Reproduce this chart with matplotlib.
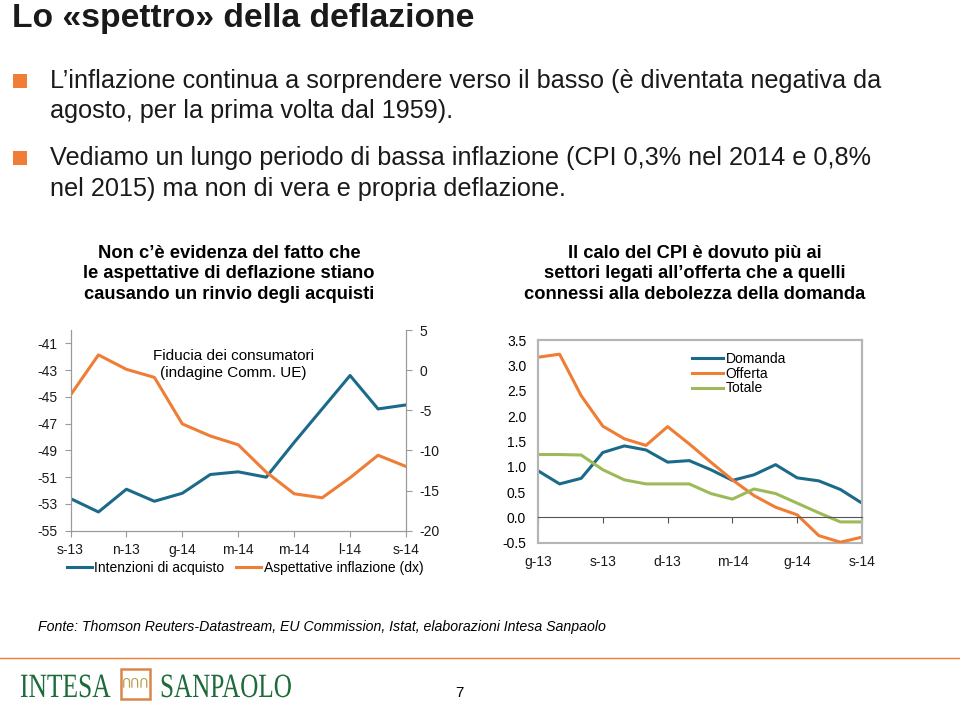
import matplotlib
matplotlib.use("Agg")
import matplotlib.pyplot as plt
from matplotlib.patches import Rectangle, PathPatch
from matplotlib.lines import Line2D
from matplotlib.textpath import TextPath
from matplotlib.font_manager import FontProperties
from matplotlib.transforms import Affine2D

plt.rcParams['font.family'] = ['Liberation Sans', 'DejaVu Sans']
plt.rcParams['axes.unicode_minus'] = False

# grafico sinistro: fiducia dei consumatori (set-13 .. set-14)
mesi_sx = list(range(13))
etichette_sx = ["s-13", "n-13", "g-14", "m-14", "m-14", "l-14", "s-14"]
intenzioni = [-52.6, -53.6, -51.9, -52.8, -52.2, -50.8, -50.6, -51.0, -48.4, -45.9, -43.4, -45.9, -45.6]
aspettative = [-3.1, 1.9, 0.1, -0.9, -6.7, -8.2, -9.3, -12.7, -15.4, -15.9, -13.4, -10.6, -12.0]

# grafico destro: CPI per componenti (giu-13 .. set-14)
mesi_dx = list(range(16))
etichette_dx = ["g-13", "s-13", "d-13", "m-14", "g-14", "s-14"]
domanda = [0.92, 0.66, 0.77, 1.28, 1.41, 1.33, 1.09, 1.12, 0.94, 0.73, 0.84, 1.04, 0.78, 0.72, 0.55, 0.28]
offerta = [3.16, 3.22, 2.40, 1.80, 1.55, 1.42, 1.79, 1.45, 1.09, 0.74, 0.43, 0.20, 0.05, -0.36, -0.49, -0.39]
totale = [1.24, 1.24, 1.23, 0.94, 0.74, 0.66, 0.66, 0.66, 0.47, 0.36, 0.56, 0.47, 0.28, 0.09, -0.09, -0.09]

TEAL = "#1c6a89"
ORANGE = "#ef7d35"
GREEN = "#9cbb58"
GREY = "#9a9a9a"
NARROW = ['Liberation Sans Narrow', 'Liberation Sans', 'DejaVu Sans']

W, H = 960, 702
def fx(x):
    return x / W
def fy(y):
    return 1 - y / H

fig = plt.figure(figsize=(9.6, 7.02), dpi=100)

# titolo e punti elenco
fig.text(fx(12), fy(27), "Lo «spettro» della deflazione", fontsize=24.2, weight='bold',
         color="#1a1a1a", va='baseline')
righe = [("L’inflazione continua a sorprendere verso il basso (è diventata negativa da", 88),
         ("agosto, per la prima volta dal 1959).", 118),
         ("Vediamo un lungo periodo di bassa inflazione (CPI 0,3% nel 2014 e 0,8%", 165),
         ("nel 2015) ma non di vera e propria deflazione.", 196)]
for testo, yb in righe:
    fig.text(fx(50), fy(yb), testo, fontsize=18.2, color="#1a1a1a", va='baseline')
for yb in (88, 165):
    fig.add_artist(Rectangle((fx(13), fy(yb)), 14 / W, 14 / H, transform=fig.transFigure,
                             color=ORANGE, lw=0))

fig.text(fx(229), fy(274), "Non c’è evidenza del fatto che\nle aspettative di deflazione stiano\n"
         "causando un rinvio degli acquisti", ha='center', va='center', fontsize=13.2,
         weight='bold', family=NARROW, linespacing=1.3)
fig.text(fx(695), fy(274), "Il calo del CPI è dovuto più ai\nsettori legati all’offerta che a quelli\n"
         "connessi alla debolezza della domanda", ha='center', va='center', fontsize=13.2,
         weight='bold', family=NARROW, linespacing=1.3)

# grafico sinistro
ax1 = fig.add_axes([fx(70.5), fy(530.7), (406 - 70.5) / W, (530.7 - 330) / H])
l1, = ax1.plot(mesi_sx, intenzioni, color=TEAL, lw=2.2, label="Intenzioni di acquisto")
ax1.set_xlim(0, 12)
ax1.set_ylim(-55, -40)
ax1.set_yticks(range(-55, -40, 2))
ax1.set_xticks(mesi_sx[::2])
ax1.set_xticklabels(etichette_sx)
ax2 = ax1.twinx()
l2, = ax2.plot(mesi_sx, aspettative, color=ORANGE, lw=2.2, label="Aspettative inflazione (dx)")
ax2.set_ylim(-20, 5)
ax2.set_yticks(range(-20, 6, 5))
for a in (ax1, ax2):
    a.spines['top'].set_visible(False)
    for s in ('left', 'right', 'bottom'):
        a.spines[s].set_color(GREY)
    a.tick_params(colors=GREY, labelcolor="#1a1a1a", labelsize=10, length=4, pad=5.5)
ax1.tick_params(axis='x', pad=4.5)
ax1.text(0.485, 0.905, "Fiducia dei consumatori\n(indagine Comm. UE)", transform=ax1.transAxes,
         ha='center', va='top', fontsize=11, linespacing=1.25)
ax1.legend([l1, l2], [l1.get_label(), l2.get_label()], loc='upper center',
           bbox_to_anchor=(0.52, -0.09), ncol=2, frameon=False, fontsize=10,
           handlelength=1.8, handletextpad=0.15, columnspacing=0.9)

# grafico destro
ax3 = fig.add_axes([fx(538), fy(542.7), (862 - 538) / W, (542.7 - 340) / H])
ax3.plot(mesi_dx, domanda, color=TEAL, lw=2.2, label="Domanda")
ax3.plot(mesi_dx, offerta, color=ORANGE, lw=2.2, label="Offerta")
ax3.plot(mesi_dx, totale, color=GREEN, lw=2.2, label="Totale")
ax3.set_xlim(0, 15)
ax3.set_ylim(-0.5, 3.5)
ax3.set_yticks([-0.5, 0, 0.5, 1, 1.5, 2, 2.5, 3, 3.5])
ax3.set_yticklabels(["%.1f" % v for v in ax3.get_yticks()])
ax3.set_xticks(mesi_dx[::3])
ax3.set_xticklabels(etichette_dx)
ax3.spines['bottom'].set_position(('data', 0))
ax3.spines['bottom'].set_color("#555555")
ax3.spines['bottom'].set_linewidth(0.8)
for s in ('left', 'right', 'top'):
    ax3.spines[s].set_color("#b5b5b5")
    ax3.spines[s].set_linewidth(1.5)
ax3.add_patch(Rectangle((0, 0), 1, 1, transform=ax3.transAxes, fill=False,
                        edgecolor="#b5b5b5", lw=1.5, clip_on=False))
ax3.tick_params(axis='x', colors="#555555", labelcolor="#1a1a1a", labelsize=10,
                length=4, pad=23)
ax3.tick_params(axis='y', length=0, labelsize=10, pad=8.5)
ax3.legend(loc='upper left', bbox_to_anchor=(0.455, 0.975), frameon=False, fontsize=10,
           borderpad=0, handlelength=2.2, handletextpad=0.2, labelspacing=0.05)

# fonte e piè di pagina
fig.text(fx(38), fy(631), "Fonte: Thomson Reuters-Datastream, EU Commission, Istat, elaborazioni Intesa Sanpaolo",
         fontsize=10.2, style='italic', family=NARROW, va='baseline')
fig.add_artist(Line2D([0, 1], [fy(658), fy(658)], transform=fig.transFigure, color=ORANGE, lw=1))

verde_logo = "#1d6a3a"
prop_logo = FontProperties(family='Liberation Serif')
for parola, x0, sx in (("INTESA", 20, 0.75), ("SANPAOLO", 160, 0.74)):
    tp = TextPath((0, 0), parola, size=34, prop=prop_logo)
    fig.add_artist(PathPatch(tp, transform=Affine2D().scale(sx, 1.0).translate(x0, H - 697),
                             color=verde_logo, lw=0))
fig.add_artist(Rectangle((fx(121), fy(699)), 29 / W, 30 / H, transform=fig.transFigure,
                         fill=False, edgecolor="#d9864a", lw=1.8))
fig.text(fx(135.5), fy(684), "ՈՈՈ", ha='center', va='center', fontsize=9, color="#b89a4a",
         family=['DejaVu Sans'])
fig.text(fx(455), fy(697), "7", fontsize=11, va='baseline')

fig.savefig("out.png", dpi=100)
